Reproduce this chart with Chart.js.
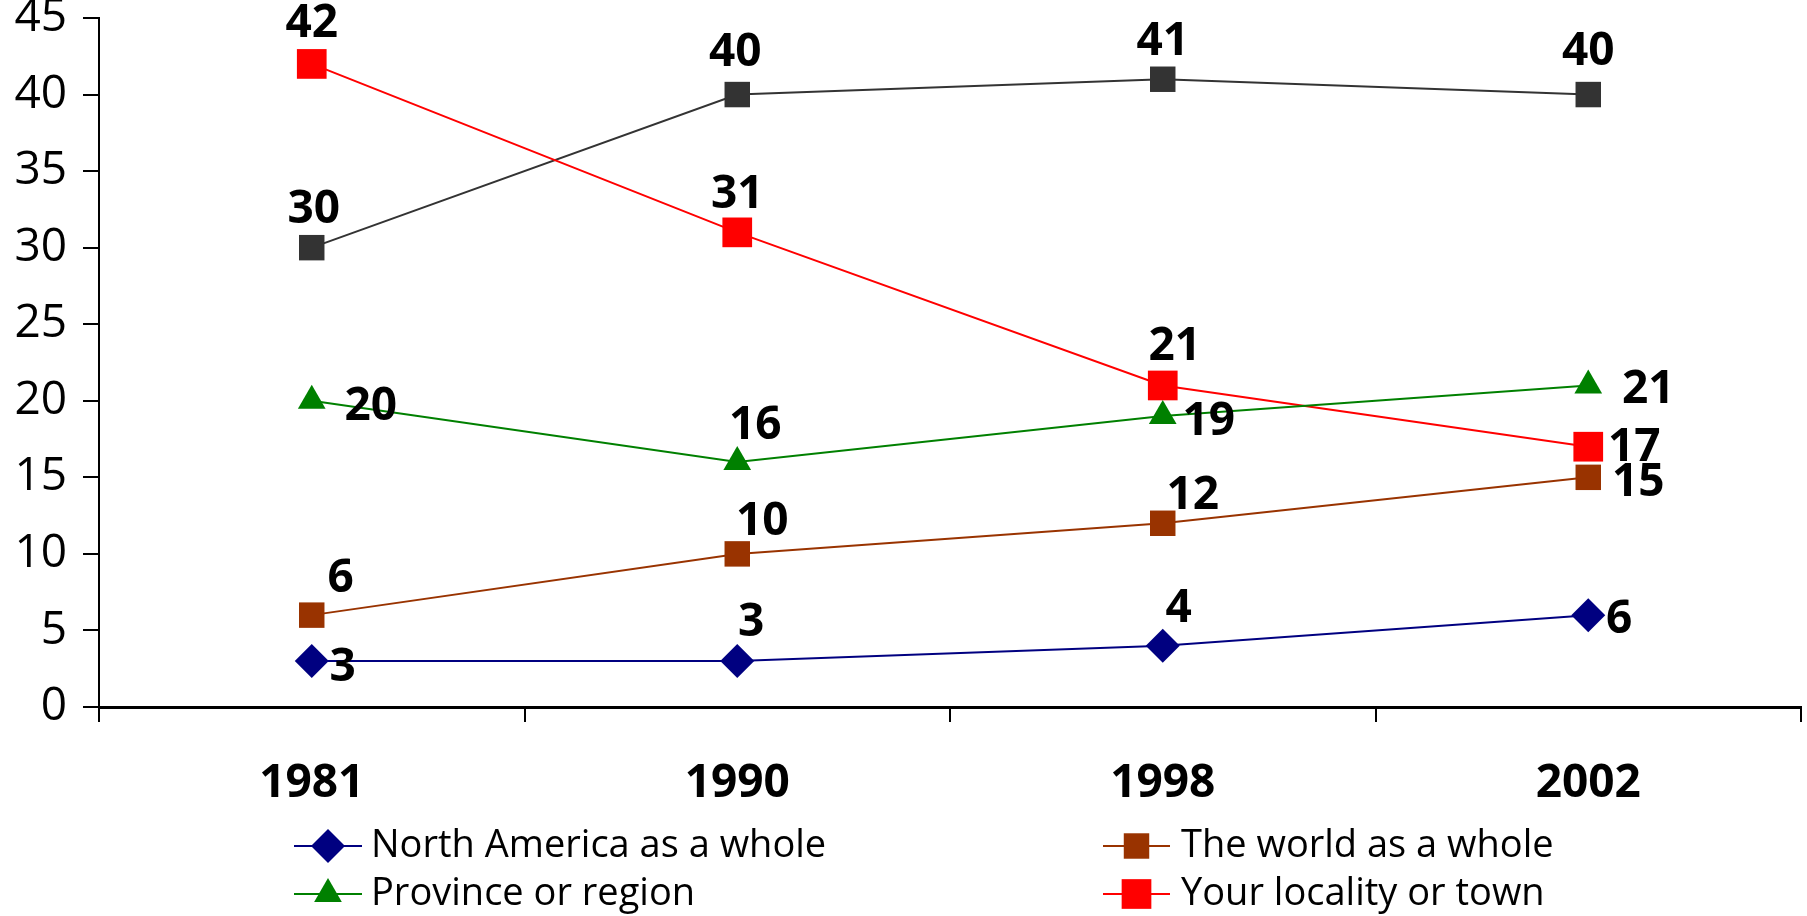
<!DOCTYPE html>
<html>
<head>
<meta charset="utf-8">
<script src="https://cdn.jsdelivr.net/npm/chart.js@4.4.0/dist/chart.umd.min.js"></script>
<style>
html, body { margin: 0; padding: 0; background: #fff; }
#wrap { width: 1807px; height: 916px; }
</style>
</head>
<body>
<div id="wrap"><canvas id="trendChart" width="1807" height="916"></canvas></div>
<script>
var years = ['1981', '1990', '1998', '2002'];
var northAmerica = [3, 3, 4, 6];
var world = [6, 10, 12, 15];
var province = [20, 16, 19, 21];
var locality = [42, 31, 21, 17];
var unnamed = [30, 40, 41, 40];
var yMin = 0, yMax = 45, yStep = 5;

var FONT = "'Open Sans', 'Noto Sans', sans-serif";

// where each value label sits relative to its marker (px)
var labelOffsets = [
	[[31, 4], [14, -41], [16, -40], [31, 2]],      // north america
	[[29, -39], [25, -35], [30, -30], [50, 3]],    // world
	[[59, 3], [18, -39], [46, 3], [60, 2]],        // province
	[[0, -43], [0, -40], [12, -41], [46, -2]],     // locality
	[[2, -41], [-2, -45], [0, -40], [0, -46]]      // unnamed
];

// value labels
var valueLabels = {
	id: 'valueLabels',
	afterDatasetsDraw: function(chart) {
		var ctx = chart.ctx;
		ctx.save();
		ctx.font = 'bold 46px ' + FONT;
		ctx.fillStyle = '#000';
		ctx.textAlign = 'center';
		ctx.textBaseline = 'alphabetic';
		chart.data.datasets.forEach(function(ds, i) {
			var meta = chart.getDatasetMeta(i);
			meta.data.forEach(function(pt, j) {
				var off = labelOffsets[i][j];
				ctx.fillText(ds.data[j], pt.x + off[0], pt.y + off[1] + 16);
			});
		});
		ctx.restore();
	}
};

// two-column legend under the axis
var gridLegend = {
	id: 'gridLegend',
	afterDraw: function(chart) {
		var ctx = chart.ctx;
		var cols = [{ line: [294, 362], text: 371 }, { line: [1103, 1170], text: 1181 }];
		var rows = [846, 894];
		var order = [0, 1, 2, 3];
		ctx.save();
		order.forEach(function(idx, k) {
			var ds = chart.data.datasets[idx];
			var c = cols[k % 2];
			var y = rows[Math.floor(k / 2)];
			ctx.strokeStyle = ds.borderColor;
			ctx.lineWidth = 2;
			ctx.beginPath();
			ctx.moveTo(c.line[0], y);
			ctx.lineTo(c.line[1], y);
			ctx.stroke();
			ctx.fillStyle = ds.pointBackgroundColor;
			ctx.strokeStyle = ds.pointBorderColor;
			Chart.helpers.drawPoint(ctx, {
				pointStyle: ds.pointStyle,
				radius: ds.pointRadius,
				borderWidth: 0,
				rotation: 0
			}, (c.line[0] + c.line[1]) / 2, y);
			ctx.fillStyle = '#000';
			ctx.font = '38px ' + FONT;
			ctx.textAlign = 'left';
			ctx.textBaseline = 'middle';
			ctx.fillText(ds.label, c.text, y);
		});
		ctx.restore();
	}
};

function series(label, data, color, style, radius) {
	return {
		label: label,
		data: data,
		borderColor: color,
		borderWidth: 2,
		pointStyle: style,
		pointRadius: radius,
		pointHoverRadius: radius,
		pointBackgroundColor: color,
		pointBorderColor: color,
		pointBorderWidth: 0,
		tension: 0,
		fill: false,
		clip: false
	};
}

var chart_obj = document.getElementById('trendChart').getContext('2d');
var trend_chart = new Chart(chart_obj, {
	type: 'line',
	data: {
		labels: years,
		datasets: [
			series('North America as a whole', northAmerica, '#000080', 'rectRot', 17),
			series('The world as a whole', world, '#993300', 'rect', 18),
			series('Province or region', province, '#008000', 'triangle', 16),
			series('Your locality or town', locality, '#FF0000', 'rect', 21),
			series('', unnamed, '#333333', 'rect', 18)
		]
	},
	options: {
		responsive: false,
		animation: false,
		devicePixelRatio: 1,
		layout: {
			autoPadding: false,
			padding: { top: 18, right: 6, left: 0, bottom: 0 }
		},
		scales: {
			x: {
				offset: true,
				grid: {
					offset: true,
					drawOnChartArea: false,
					drawTicks: true,
					tickLength: 15,
					color: '#000',
					lineWidth: 2
				},
				border: { color: '#000', width: 3 },
				ticks: {
					color: '#000',
					padding: 34,
					font: { family: FONT, size: 46, weight: 'bold' }
				},
				afterFit: function(scale) {
					scale.height = 209;
					scale.paddingLeft = 0;
					scale.paddingRight = 0;
				}
			},
			y: {
				min: yMin,
				max: yMax,
				grid: {
					drawOnChartArea: false,
					drawTicks: true,
					tickLength: 16,
					color: '#000',
					lineWidth: 2
				},
				border: { color: '#000', width: 2 },
				ticks: {
					stepSize: yStep,
					color: '#000',
					padding: 16,
					font: { family: FONT, size: 46 }
				},
				afterFit: function(scale) {
					scale.width = 99;
					scale.paddingTop = 0;
					scale.paddingBottom = 0;
				}
			}
		},
		plugins: {
			legend: { display: false },
			tooltip: { enabled: false }
		}
	},
	plugins: [valueLabels, gridLegend]
});
</script>
</body>
</html>
